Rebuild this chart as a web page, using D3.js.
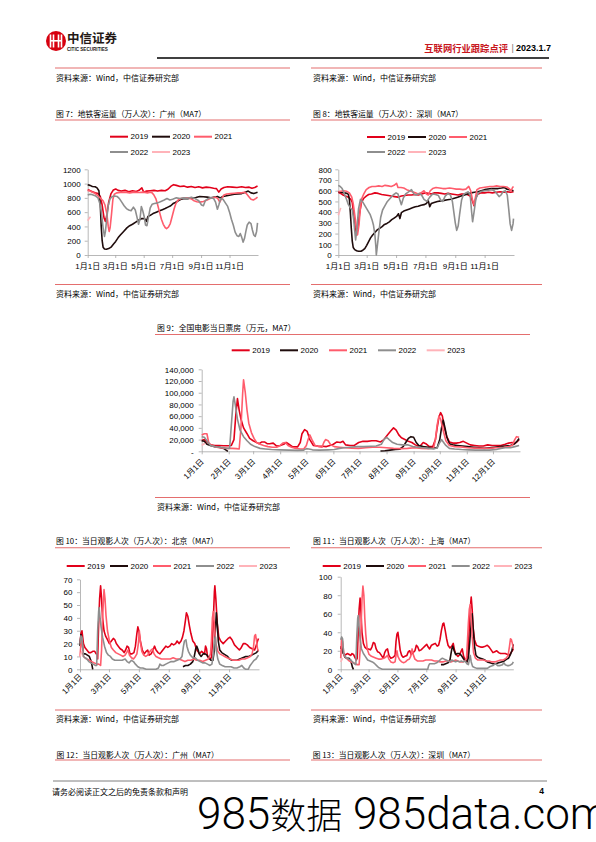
<!DOCTYPE html>
<html><head><meta charset="utf-8">
<script src="https://cdn.jsdelivr.net/npm/d3@7"></script>
<style>body{margin:0;background:#fff}svg{display:block}</style>
</head><body>
<svg id="page" width="596" height="842"></svg>
<script>
// ---------------- DATA ----------------
const years = ["2019","2020","2021","2022","2023"];
const monthLabels = ["1月1日","2月1日","3月1日","4月1日","5月1日","6月1日","7月1日","8月1日","9月1日","10月1日","11月1日","12月1日"];
const monthDays = [0,31,59,90,120,151,181,212,243,273,304,334];

// Fig 7 Guangzhou metro (万人次)
const gz2019 = [[0,915],[4,905],[10,885],[16,870],[22,860],[27,820],[31,700],[35,520],[38,470],[41,560],[45,740],[50,860],[55,910],[60,925],[65,905],[72,895],[80,905],[88,885],[96,900],[104,890],[110,905],[116,940],[120,880],[126,895],[134,900],[142,905],[150,895],[158,905],[166,900],[172,920],[178,960],[184,985],[190,975],[198,960],[206,965],[214,950],[222,960],[230,945],[238,955],[246,940],[254,950],[262,945],[270,935],[276,930],[281,880],[286,925],[292,945],[300,955],[310,950],[320,945],[330,955],[338,945],[346,950],[352,935],[358,945],[364,965]];
const gz2020 = [[0,985],[5,975],[10,960],[16,955],[20,940],[24,900],[27,700],[29,400],[31,200],[33,110],[36,85],[40,80],[45,90],[50,110],[55,150],[60,190],[65,240],[70,280],[77,330],[84,380],[90,410],[96,430],[103,460],[110,490],[116,510],[122,510],[126,470],[129,540],[134,555],[140,580],[147,600],[154,620],[160,635],[166,650],[172,670],[178,690],[183,720],[188,735],[194,760],[200,780],[208,790],[216,790],[224,800],[232,805],[240,820],[248,815],[256,810],[264,800],[272,810],[278,820],[284,800],[290,820],[298,830],[306,840],[314,850],[322,855],[330,860],[338,880],[344,895],[350,870],[356,860],[364,880]];
const gz2021 = [[0,905],[5,895],[10,880],[16,860],[22,830],[28,790],[33,760],[37,700],[41,580],[44,400],[46,330],[48,380],[51,570],[54,780],[57,850],[62,870],[70,875],[80,880],[90,870],[100,880],[110,875],[120,880],[128,870],[134,880],[138,870],[142,840],[146,790],[150,700],[154,600],[158,500],[162,430],[166,385],[169,370],[173,390],[177,440],[181,540],[185,640],[189,720],[194,770],[200,790],[208,800],[216,800],[222,785],[228,760],[234,745],[240,740],[248,750],[256,770],[262,790],[268,800],[274,810],[279,790],[283,740],[287,790],[292,840],[298,855],[306,860],[314,865],[322,870],[330,870],[336,880],[340,860],[345,820],[350,780],[355,770],[360,790],[364,810]];
const gz2022 = [[0,840],[5,850],[10,845],[16,830],[22,800],[27,700],[30,560],[33,380],[36,260],[38,330],[41,520],[44,690],[48,790],[53,820],[58,825],[63,820],[68,790],[73,740],[78,690],[83,650],[88,630],[93,620],[98,670],[102,630],[106,520],[109,430],[112,500],[115,680],[118,620],[121,540],[124,420],[127,410],[130,520],[134,660],[138,710],[143,720],[150,730],[157,750],[164,770],[170,790],[176,770],[182,780],[190,800],[198,790],[206,800],[214,795],[222,810],[230,790],[238,760],[244,700],[248,690],[252,760],[258,790],[264,800],[270,790],[274,740],[278,640],[281,700],[285,790],[290,780],[295,730],[300,680],[304,600],[308,500],[312,420],[316,320],[320,270],[324,260],[327,300],[330,250],[333,180],[336,230],[339,330],[342,420],[346,460],[350,440],[353,350],[356,280],[359,260],[362,330],[364,450]];
const gz2023 = [[0,480],[2,500],[4,520],[6,535]];

// Fig 8 Shenzhen metro (万人次)
const sz2019 = [[0,585],[5,575],[10,560],[15,550],[21,540],[26,520],[29,490],[32,380],[35,260],[38,185],[41,260],[44,380],[48,490],[53,530],[58,550],[63,565],[69,570],[76,580],[83,575],[90,565],[97,560],[104,555],[110,550],[117,545],[124,540],[131,550],[138,555],[145,560],[152,560],[159,565],[166,560],[173,570],[180,580],[187,575],[193,570],[200,580],[207,580],[214,575],[221,570],[228,575],[235,570],[242,565],[249,560],[256,570],[262,570],[268,565],[274,550],[279,500],[282,460],[285,520],[289,565],[296,580],[304,580],[312,585],[320,580],[328,585],[336,590],[344,585],[352,590],[358,585],[364,590]];
const sz2020 = [[0,590],[6,585],[12,580],[18,575],[21,565],[23,520],[25,400],[27,250],[29,130],[31,70],[34,50],[38,40],[42,35],[47,35],[51,45],[55,60],[59,90],[63,125],[67,160],[71,185],[76,210],[81,235],[86,250],[91,265],[96,285],[101,295],[106,310],[111,330],[116,345],[121,360],[125,385],[128,340],[131,395],[136,410],[142,420],[148,430],[154,440],[160,450],[166,455],[172,465],[178,470],[183,480],[187,505],[190,450],[193,480],[199,490],[206,500],[213,505],[220,510],[227,515],[234,520],[241,530],[248,540],[255,550],[262,560],[269,570],[276,580],[283,585],[290,590],[297,600],[304,610],[311,615],[318,620],[325,620],[332,620],[339,625],[345,630],[350,615],[356,610],[364,600]];
const sz2021 = [[0,590],[5,595],[11,600],[17,595],[23,580],[28,540],[31,480],[34,380],[37,280],[40,190],[43,280],[46,450],[49,530],[53,570],[58,610],[64,630],[70,640],[77,640],[84,645],[91,640],[97,650],[104,645],[110,640],[116,650],[121,670],[124,630],[130,630],[136,625],[142,610],[148,600],[154,590],[160,580],[166,570],[172,580],[178,600],[183,570],[187,560],[191,600],[196,620],[203,630],[210,625],[217,620],[224,620],[231,625],[238,620],[245,615],[252,615],[259,610],[265,615],[271,640],[275,600],[279,510],[282,470],[285,540],[288,610],[294,625],[301,630],[308,635],[315,640],[322,640],[329,645],[336,640],[343,640],[350,635],[355,620],[359,600],[362,630],[364,640]];
const sz2022 = [[0,650],[4,640],[8,620],[12,580],[17,520],[21,470],[25,440],[29,420],[32,330],[34,230],[36,140],[39,260],[42,430],[46,520],[50,500],[54,470],[58,440],[62,410],[66,380],[70,330],[73,280],[76,190],[78,80],[79,0],[81,80],[84,200],[88,350],[92,420],[97,460],[102,500],[108,530],[114,560],[120,580],[124,570],[128,510],[131,470],[135,530],[140,570],[146,590],[152,610],[157,570],[162,560],[168,575],[173,560],[178,520],[184,500],[190,540],[196,570],[202,565],[208,555],[213,510],[217,500],[222,550],[228,575],[233,560],[237,500],[240,400],[243,300],[246,230],[249,270],[252,380],[256,510],[260,565],[265,580],[270,590],[274,560],[277,400],[279,310],[282,400],[286,530],[291,580],[298,595],[305,600],[312,605],[319,610],[325,595],[330,570],[334,545],[338,560],[342,590],[347,600],[351,560],[354,430],[357,290],[360,230],[363,290],[364,340]];
const sz2023 = [[0,370],[3,410],[5,440]];

// Fig 9 national box office (万元)
const bo2019 = [[0,18600],[3,20000],[6,16000],[10,11000],[15,10000],[20,10000],[25,9500],[30,9500],[34,10000],[37,20000],[39,60000],[41,90000],[43,70000],[45,55000],[48,40000],[52,30000],[55,22000],[59,18000],[63,15000],[66,13000],[69,16000],[72,16000],[75,13000],[78,13000],[82,14000],[86,9000],[90,10000],[94,12000],[97,15000],[100,12000],[104,8000],[110,7500],[113,15000],[115,30000],[118,37000],[121,34000],[124,20000],[128,10000],[133,9000],[138,8500],[143,8000],[147,10000],[151,12000],[155,16000],[159,15000],[162,17000],[165,11000],[170,10000],[175,10000],[180,15000],[185,17000],[190,17000],[195,18000],[200,18000],[205,16000],[209,20000],[213,28000],[217,35000],[220,40000],[223,36000],[226,28000],[229,23000],[233,20000],[237,17000],[241,15000],[245,11000],[248,9000],[251,10000],[254,15000],[257,13000],[261,8000],[265,8000],[268,20000],[270,40000],[272,58000],[274,66000],[276,60000],[278,42000],[281,25000],[284,16000],[288,14000],[292,14000],[296,15000],[300,17000],[304,14000],[308,11000],[313,10000],[318,9000],[323,9000],[328,11000],[333,10000],[338,10000],[343,10000],[348,12000],[352,14000],[356,15000],[359,13000],[362,17000],[364,20000]];
const bo2020 = [[0,18000],[3,17000],[6,12000],[10,10000],[15,8000],[20,7000],[25,5000],[28,2000],[30,0],[100,null],[205,500],[210,1000],[216,2000],[222,3000],[227,3500],[231,8000],[234,15000],[237,22000],[240,25000],[243,24000],[246,15000],[249,10000],[254,8000],[260,7000],[266,6000],[270,6000],[273,20000],[275,40000],[277,53000],[279,40000],[281,25000],[284,13000],[288,11000],[293,10000],[299,9000],[305,8000],[312,7000],[318,6000],[324,5000],[330,6000],[336,7000],[342,8000],[348,9000],[354,10000],[358,12000],[361,16000],[364,22000]];
const bo2021 = [[0,28000],[3,30000],[6,30000],[8,15000],[11,10000],[15,8000],[20,6000],[25,5500],[30,5000],[35,5000],[40,4500],[43,4000],[45,40000],[47,100000],[48,122000],[50,100000],[52,70000],[54,48000],[57,32000],[60,22000],[63,15000],[67,12000],[71,10000],[76,8000],[81,7000],[86,7000],[90,10000],[93,14000],[96,15000],[99,10000],[103,7000],[108,5000],[113,4000],[117,4000],[120,10000],[122,20000],[124,28000],[127,18000],[130,10000],[134,8000],[138,7000],[140,15000],[142,20000],[145,18000],[148,11000],[152,8000],[158,7000],[165,6000],[172,5500],[180,5000],[188,6000],[196,7000],[204,7000],[212,6000],[220,5000],[228,4500],[236,5000],[244,6000],[252,5000],[260,4500],[266,6000],[268,20000],[270,45000],[272,60000],[274,55000],[277,35000],[280,18000],[284,10000],[290,8000],[297,7500],[305,6000],[313,5500],[321,5000],[330,5000],[338,6000],[346,7000],[352,8000],[356,10000],[359,20000],[361,25000],[364,24000]];
const bo2022 = [[0,25000],[3,24000],[6,18000],[10,10000],[15,8000],[20,7000],[25,6000],[29,5000],[32,5000],[34,45000],[36,85000],[37,93000],[39,75000],[41,55000],[44,36000],[48,25000],[52,18000],[56,12000],[61,8000],[67,5000],[73,4000],[80,3000],[90,2500],[100,2000],[110,1500],[117,2000],[120,4500],[123,4000],[127,2500],[135,2000],[145,2500],[152,3000],[158,5000],[163,6000],[170,7000],[178,8000],[186,8000],[194,8500],[200,9000],[206,12000],[209,20000],[212,24000],[215,20000],[219,15000],[224,12000],[230,11000],[236,11000],[242,8000],[248,7000],[254,6000],[260,5000],[266,4000],[270,6000],[273,15000],[275,20000],[277,16000],[280,10000],[284,5000],[290,4000],[298,3000],[306,2500],[314,2000],[322,2000],[330,2000],[338,3000],[343,5000],[348,6000],[354,6000],[359,8000],[364,10000]];
const bo2023 = [[0,10000],[2,12000],[4,14000]];

// Fig 10 Beijing admissions (万人次)
const bj2019 = [[0,20],[2,28],[4,30],[7,20],[10,17],[14,15],[18,13],[22,13],[26,14],[30,14],[33,12],[35,12],[36,8],[38,35],[40,55],[42,65],[44,55],[46,40],[49,30],[52,26],[56,23],[60,20],[64,22],[68,24],[71,23],[74,20],[78,18],[82,16],[86,15],[90,13],[93,15],[96,18],[99,17],[102,12],[106,12],[110,13],[113,18],[116,28],[118,33],[120,30],[123,22],[127,15],[131,12],[135,14],[138,15],[141,11],[145,12],[149,15],[152,18],[155,15],[159,13],[163,12],[167,14],[171,16],[175,18],[179,17],[183,18],[187,20],[191,19],[195,20],[198,22],[202,20],[206,22],[209,25],[212,30],[215,38],[217,44],[220,41],[223,34],[226,28],[230,22],[234,20],[237,16],[240,14],[244,12],[248,14],[251,13],[254,12],[256,18],[258,16],[260,10],[264,8],[268,9],[270,20],[272,40],[274,60],[275,65],[277,55],[280,35],[283,25],[287,22],[292,20],[297,22],[302,24],[306,25],[310,23],[315,19],[320,17],[325,15],[329,17],[333,20],[337,20],[341,19],[346,17],[351,16],[356,15],[359,18],[362,22],[364,24]];
const bj2020 = [[0,18],[2,27],[4,22],[7,12],[11,12],[15,11],[19,10],[22,7],[24,4],[26,0],[100,null],[210,2],[215,3],[220,3],[225,4],[230,6],[233,10],[236,16],[238,18],[241,15],[243,12],[247,10],[251,12],[255,12],[259,11],[263,9],[267,7],[271,7],[274,15],[276,30],[278,44],[280,35],[282,22],[285,15],[289,13],[293,12],[297,11],[301,10],[305,8],[310,7],[315,7],[320,7],[326,8],[332,9],[338,10],[344,10],[350,11],[355,12],[360,13],[364,15]];
const bj2021 = [[0,10],[2,20],[4,24],[7,10],[10,9],[14,8],[19,7],[24,6],[29,5],[34,4],[38,4],[42,3],[44,15],[46,40],[48,55],[49,62],[51,55],[53,42],[56,30],[60,22],[64,17],[68,15],[73,13],[78,12],[83,11],[88,10],[92,11],[95,13],[98,15],[101,11],[105,9],[109,8],[113,10],[116,12],[119,20],[121,30],[123,22],[126,14],[130,11],[134,10],[138,11],[141,13],[145,15],[148,16],[151,12],[155,10],[160,9],[166,8],[172,8],[178,8],[184,8],[190,9],[196,8],[202,8],[208,7],[214,6],[220,7],[226,7],[232,8],[238,7],[244,7],[250,6],[256,7],[262,8],[266,12],[268,22],[270,40],[272,45],[274,35],[277,20],[281,14],[285,12],[290,11],[295,10],[300,9],[306,8],[312,7],[318,7],[324,7],[330,8],[336,8],[342,9],[347,10],[351,12],[354,18],[356,26],[358,27],[360,22],[362,16],[364,14]];
const bj2022 = [[0,20],[2,26],[4,25],[7,10],[10,9],[14,8],[18,6],[22,5],[27,4],[31,3],[34,3],[36,30],[38,45],[39,48],[41,40],[43,33],[46,25],[50,18],[54,13],[58,11],[62,10],[66,8],[71,7],[76,7],[81,7],[86,7],[92,8],[96,6],[100,5],[105,7],[109,6],[113,4],[118,2],[123,1],[128,1],[135,0],[145,0],[155,0],[160,1],[163,4],[166,3],[170,3],[175,4],[180,5],[186,6],[192,6],[198,7],[204,8],[208,10],[211,18],[213,22],[216,23],[218,18],[221,14],[225,11],[230,9],[235,9],[240,7],[245,6],[250,5],[255,5],[260,4],[265,3],[269,4],[272,12],[274,22],[276,25],[278,15],[281,8],[285,4],[290,3],[296,2],[302,2],[308,2],[314,1],[320,1],[326,2],[330,3],[334,1],[338,0],[343,0],[347,3],[351,5],[355,7],[359,8],[364,11]];
const bj2023 = [[0,10],[2,12],[4,14]];

// Fig 11 Shanghai admissions (万人次)
const sh2019 = [[0,25],[2,22],[5,18],[8,15],[11,16],[14,17],[18,16],[21,15],[24,17],[27,16],[30,13],[33,10],[35,12],[37,40],[39,65],[41,77],[43,60],[45,40],[48,28],[51,24],[55,22],[59,22],[63,21],[66,24],[69,29],[72,28],[75,22],[78,19],[82,18],[86,15],[90,12],[93,18],[96,21],[99,22],[102,15],[106,12],[111,13],[115,15],[117,30],[119,38],[121,40],[123,32],[126,20],[129,15],[132,13],[136,14],[140,15],[143,19],[146,20],[149,16],[153,18],[157,20],[160,26],[163,24],[166,20],[170,21],[174,23],[178,25],[182,27],[185,24],[188,22],[192,26],[196,27],[200,28],[204,25],[207,26],[210,32],[213,42],[216,49],[218,50],[221,42],[224,33],[227,26],[231,23],[235,25],[238,28],[241,20],[244,16],[248,14],[252,16],[255,20],[257,22],[260,14],[264,10],[267,8],[269,15],[271,35],[273,55],[275,72],[276,78],[278,65],[280,45],[283,32],[287,26],[291,25],[296,24],[301,24],[306,25],[310,26],[314,24],[318,21],[322,18],[326,19],[330,20],[334,18],[338,17],[343,17],[348,17],[353,16],[357,15],[360,18],[363,20],[365,22]];
const sh2020 = [[0,22],[2,25],[5,18],[9,13],[13,12],[17,12],[21,10],[23,6],[25,2],[27,0],[100,null],[212,5],[217,5],[222,6],[227,7],[231,10],[233,16],[235,22],[237,25],[240,20],[243,16],[247,17],[251,17],[255,15],[259,12],[263,9],[267,8],[270,12],[273,30],[276,50],[278,60],[280,45],[283,25],[286,15],[290,13],[295,12],[300,11],[305,10],[310,8],[316,7],[322,6],[328,6],[334,7],[340,8],[346,9],[351,11],[355,12],[359,16],[362,20],[365,27]];
const sh2021 = [[0,12],[2,33],[4,30],[7,15],[10,13],[14,11],[18,9],[22,8],[27,7],[31,6],[35,5],[39,5],[41,20],[43,45],[45,75],[47,90],[49,80],[51,55],[53,38],[56,22],[60,16],[65,14],[70,13],[75,12],[80,11],[86,11],[91,12],[95,13],[99,15],[102,11],[106,8],[111,7],[115,8],[117,15],[119,20],[121,14],[125,10],[129,8],[133,7],[137,8],[141,10],[145,11],[148,14],[151,22],[154,15],[157,11],[162,9],[168,9],[174,9],[180,10],[186,10],[192,10],[198,9],[204,9],[210,8],[216,8],[222,9],[228,9],[233,8],[238,9],[243,10],[248,9],[253,8],[258,8],[263,9],[266,12],[268,30],[270,50],[272,65],[274,70],[276,55],[278,35],[281,18],[285,12],[290,10],[296,10],[302,10],[308,9],[314,9],[320,8],[326,8],[332,9],[338,10],[344,10],[350,12],[354,15],[357,25],[359,33],[361,32],[363,28],[365,22]];
const sh2022 = [[0,32],[2,35],[4,33],[6,18],[9,14],[13,12],[17,11],[21,10],[25,8],[29,6],[32,5],[34,35],[36,55],[37,58],[39,45],[41,33],[44,22],[48,17],[52,14],[57,10],[62,9],[67,8],[72,6],[76,4],[80,2],[84,1],[88,0],[120,0],[150,0],[184,0],[186,4],[188,6],[193,6],[198,6],[203,7],[208,9],[212,11],[215,12],[219,11],[223,10],[227,9],[231,8],[235,10],[239,9],[243,8],[247,9],[251,8],[255,9],[259,8],[263,9],[267,6],[270,5],[272,10],[274,15],[276,8],[279,3],[283,2],[288,1],[295,1],[303,1],[310,1],[316,3],[322,4],[327,6],[332,4],[337,4],[342,5],[345,7],[348,5],[352,4],[356,4],[360,5],[363,6],[365,8]];
const sh2023 = [[0,8],[2,10],[4,12]];

// ---------------- STYLE ----------------
const colors = {"2019":"#E2001A","2020":"#1F0C0C","2021":"#FF5C6C","2022":"#8E8E8E","2023":"#FFB3B9"};
const LAT = "'Liberation Sans', Arial, 'Noto Sans CJK SC', sans-serif";
const CJK = "'Noto Sans CJK SC', 'Liberation Sans', sans-serif";
const RED_RULE = "#E46E6E";

const svg = d3.select("#page");
svg.append("rect").attr("width",596).attr("height",842).attr("fill","#fff");

function txt(x,y,s,opts={}){
  return svg.append("text").attr("x",x).attr("y",y).text(s)
    .attr("font-family",opts.family||CJK).attr("font-size",opts.size||8)
    .attr("fill",opts.fill||"#000").attr("font-weight",opts.weight||"normal")
    .attr("text-anchor",opts.anchor||"start").attr("dominant-baseline","central");
}
function rule(x1,x2,y,color,w){
  svg.append("line").attr("x1",x1).attr("x2",x2).attr("y1",y).attr("y2",y)
    .attr("stroke",color).attr("stroke-width",w);
}

// ---------------- HEADER ----------------
const logo = svg.append("g").attr("transform","translate(56,41)");
logo.append("circle").attr("r",10).attr("fill","#D7000F");
[-5.5,-2.5,2.5,5.5].forEach(dx=>{
  logo.append("rect").attr("x",dx-0.8).attr("y",-6.5).attr("width",1.6).attr("height",13).attr("fill","#fff");
});
logo.append("rect").attr("x",-5.5).attr("y",-1).attr("width",11).attr("height",1.6).attr("fill","#fff");
txt(67,37,"中信证券",{size:12.5,weight:"bold",fill:"#231815"});
txt(67,49.5,"CITIC SECURITIES",{size:4.6,weight:"bold",family:LAT,fill:"#231815"});
txt(508,48,"互联网行业跟踪点评",{size:9.3,weight:"bold",fill:"#C8161D",anchor:"end"});
txt(511.5,48,"|",{size:9,family:LAT,fill:"#777"});
txt(516,48,"2023.1.7",{size:9,weight:"bold",family:LAT});
rule(157,549,58,"#000",1.6);

// top sources
rule(55,290,68,RED_RULE,1.1);
rule(311,542,68,RED_RULE,1.1);
txt(56,77,"资料来源：Wind，中信证券研究部");
txt(313,77,"资料来源：Wind，中信证券研究部");

// ---------------- CHART FUNCTION ----------------
function drawChart(c){
  const x = d3.scaleLinear().domain([0,365]).range([c.left,c.right]);
  const y = d3.scaleLinear().domain([0,c.yMax]).range([c.bottom,c.top]);
  txt(c.titleX,c.titleY,c.title,{size:7.8});
  rule(c.ruleX1,c.ruleX2,c.titleY+7,RED_RULE,1.1);
  rule(c.ruleX1,c.ruleX2,c.srcY-8.5,RED_RULE,1.1);
  txt(c.titleX,c.srcY,"资料来源：Wind，中信证券研究部");
  c.legend.forEach(row=>{
    row.items.forEach(([lx,yr])=>{
      svg.append("line").attr("x1",lx).attr("x2",lx+18).attr("y1",row.y).attr("y2",row.y)
        .attr("stroke",colors[yr]).attr("stroke-width",2);
      txt(lx+20.5,row.y,yr,{family:LAT,size:8});
    });
  });
  const yAxis = d3.axisLeft(y).tickValues(d3.range(0,c.yMax+1,c.yStep)).tickSize(3).tickSizeOuter(0).tickFormat(c.yFmt);
  const gy = svg.append("g").attr("transform",`translate(${c.left},0)`).call(yAxis);
  gy.select(".domain").attr("stroke","#A6A6A6").attr("stroke-width",0.8);
  gy.selectAll(".tick line").attr("stroke","#A6A6A6").attr("stroke-width",0.8);
  gy.selectAll(".tick text").attr("font-family",LAT).attr("font-size",8).attr("fill","#000")
    .attr("x",-c.yLabGap).attr("dy","0.35em");
  const xAxis = d3.axisBottom(x).tickValues(c.xTicks.map(i=>monthDays[i])).tickSize(3).tickSizeOuter(0).tickFormat("");
  const gx = svg.append("g").attr("transform",`translate(0,${c.bottom})`).call(xAxis);
  gx.select(".domain").attr("stroke","#A6A6A6").attr("stroke-width",0.8);
  gx.selectAll(".tick line").attr("stroke","#A6A6A6").attr("stroke-width",0.8);
  c.xTicks.forEach(i=>{
    const tx = x(monthDays[i]);
    if(c.rotate){
      svg.append("text").text(monthLabels[i])
        .attr("transform",`translate(${tx+c.rotDx},${c.bottom+c.rotDy}) rotate(-45)`)
        .attr("text-anchor","end").attr("dominant-baseline","central")
        .attr("font-family",LAT).attr("font-size",8).attr("fill","#000");
    } else {
      txt(tx,c.bottom+11.5,monthLabels[i],{family:LAT,anchor:"middle"});
    }
  });
  const line = d3.line().defined(d=>d[1]!==null).x(d=>x(d[0])).y(d=>y(d[1]));
  years.forEach((yr,k)=>{
    svg.append("path").datum(c.series[k]).attr("d",line).attr("fill","none")
      .attr("stroke",colors[yr]).attr("stroke-width",1.6).attr("stroke-linejoin","round");
  });
}

const plain = d3.format("d");
const comma = v => v===0 ? "-" : d3.format(",")(v);

drawChart({title:"图 7：地铁客运量（万人次）：广州（MA7）",titleX:56,titleY:113,ruleX1:55,ruleX2:290,srcY:293,
  left:87.7,right:258,top:169.3,bottom:255,yMax:1200,yStep:200,yFmt:plain,yLabGap:7,
  xTicks:[0,2,4,6,8,10],rotate:false,
  legend:[{y:136.7,items:[[110,"2019"],[152,"2020"],[194,"2021"]]},{y:152,items:[[110,"2022"],[152,"2023"]]}],
  series:[gz2019,gz2020,gz2021,gz2022,gz2023]});

drawChart({title:"图 8：地铁客运量（万人次）：深圳（MA7）",titleX:313,titleY:113,ruleX1:311,ruleX2:542,srcY:293,
  left:338.3,right:514,top:169.3,bottom:255,yMax:800,yStep:100,yFmt:plain,yLabGap:6.5,
  xTicks:[0,2,4,6,8,10],rotate:false,
  legend:[{y:137,items:[[367,"2019"],[408,"2020"],[449,"2021"]]},{y:152,items:[[367,"2022"],[408,"2023"]]}],
  series:[sz2019,sz2020,sz2021,sz2022,sz2023]});

drawChart({title:"图 9：全国电影当日票房（万元，MA7）",titleX:157,titleY:327.5,ruleX1:155,ruleX2:530,srcY:506,
  left:201.7,right:520,top:369.3,bottom:451.3,yMax:140000,yStep:20000,yFmt:comma,yLabGap:8,
  xTicks:[0,1,2,3,4,5,6,7,8,9,10,11],rotate:true,rotDx:1,rotDy:9,
  legend:[{y:350.3,items:[[231.7,"2019"],[280,"2020"],[329,"2021"],[378,"2022"],[426.7,"2023"]]}],
  series:[bo2019,bo2020,bo2021,bo2022,bo2023]});

drawChart({title:"图 10：当日观影人次（万人次）：北京（MA7）",titleX:56,titleY:540.7,ruleX1:55,ruleX2:290,srcY:718.5,
  left:80,right:259,top:579.3,bottom:669.3,yMax:70,yStep:10,yFmt:plain,yLabGap:7.5,
  xTicks:[0,2,4,6,8,10],rotate:true,rotDx:1,rotDy:6,
  legend:[{y:566,items:[[66.7,"2019"],[110,"2020"],[153,"2021"],[196,"2022"],[239,"2023"]]}],
  series:[bj2019,bj2020,bj2021,bj2022,bj2023]});

drawChart({title:"图 11：当日观影人次（万人次）：上海（MA7）",titleX:313,titleY:540.7,ruleX1:311,ruleX2:542,srcY:718.5,
  left:340.7,right:513.3,top:576.7,bottom:669.3,yMax:100,yStep:20,yFmt:plain,yLabGap:8.5,
  xTicks:[0,2,4,6,8,10],rotate:true,rotDx:1,rotDy:6,
  legend:[{y:566,items:[[322.7,"2019"],[366,"2020"],[408,"2021"],[451.7,"2022"],[494,"2023"]]}],
  series:[sh2019,sh2020,sh2021,sh2022,sh2023]});

// ---------------- BOTTOM ----------------
txt(56.5,754,"图 12：当日观影人次（万人次）：广州（MA7）",{size:7.8});
rule(55,290,760,RED_RULE,1.1);
txt(312.7,754,"图 13：当日观影人次（万人次）：深圳（MA7）",{size:7.8});
rule(311,542,760,RED_RULE,1.1);
rule(53,547,781,"#7F7F7F",1);
txt(52,791,"请务必阅读正文之后的免责条款和声明",{size:8});
txt(544,791,"4",{size:8.5,weight:"bold",family:LAT,anchor:"end"});
const wm = svg.append("text").attr("x",197).attr("y",829)
  .attr("font-family","Roboto, 'Liberation Sans', sans-serif").attr("font-weight",300)
  .attr("font-size",44).attr("fill","#000");
wm.append("tspan").text("985");
wm.append("tspan").attr("font-family","'Noto Sans CJK SC', sans-serif").attr("font-size",36).text("数据");
wm.append("tspan").text(" 985data.com");
</script>
</body></html>
